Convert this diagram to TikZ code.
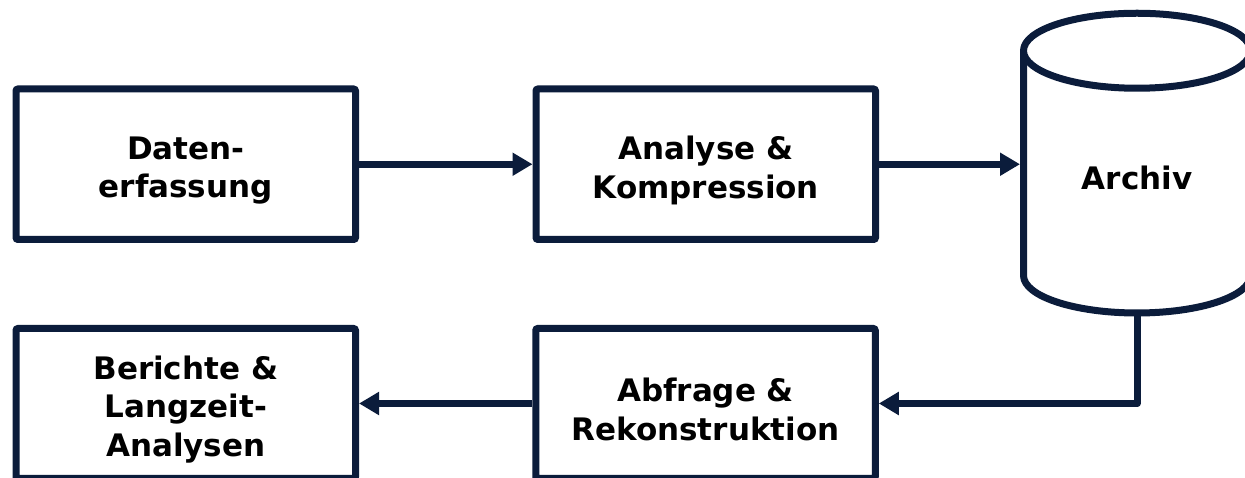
\documentclass[tikz,border=0pt]{standalone}
\usepackage{fontspec}
\setmainfont{DejaVu Sans}
\usetikzlibrary{arrows.meta}
\definecolor{navy}{HTML}{0B1C3B}
% invisible strut that lowers a box text a little
\newcommand\tophang{\rule{0pt}{35.5pt}}
\tikzset{
  box/.style={draw=navy, line width=7pt, rounded corners=2pt, fill=white,
    minimum width=339.5pt, align=center, inner sep=0pt,
    font=\fontsize{31}{38.5}\selectfont\bfseries},
  conn/.style={draw=navy, line width=7pt, line join=round,
    -{Triangle[length=20pt,width=22pt]}},
  lbl/.style={align=center, inner sep=0pt, font=\fontsize{31}{38.5}\selectfont\bfseries}
}
\begin{document}
\begin{tikzpicture}[x=1pt,y=1pt]
\useasboundingbox (0,0) rectangle (1245,478);

% process boxes
\node[box, minimum height=150.5pt] (erfassung) at (185.75,313.75) {\tophang Daten-\\erfassung};
\node[box, minimum height=150.5pt] (analyse) at (705.75,313.75) {\tophang Analyse \&\\Kompression};
\node[box, minimum height=150pt] (berichte) at (185.75,74.5) {\tophang Berichte \&\\Langzeit-\\Analysen};
\node[box, minimum height=150pt] (abfrage) at (705.5,74.5) {\tophang Abfrage \&\\Rekonstruktion};

% archive drum
\begin{scope}[draw=navy, line width=7pt, line join=round]
  \draw[fill=white] (1023.5,427.25) -- (1023.5,202.5)
    arc[start angle=180, end angle=360, x radius=113.5, y radius=37.5]
    -- (1250.5,427.25);
  \draw[fill=white] (1137,427.25) ellipse[x radius=113.5, y radius=37.5];
\end{scope}
\node[lbl] (archiv) at (1137,300.5) {Archiv};
\coordinate (archivin) at (1020,313.75);
\coordinate (archivout) at (1137,161.5);

% flow
\draw[conn] (erfassung.east) -- (analyse.west);
\draw[conn] (analyse.east) -- (archivin);
\draw[conn] (archivout) |- (abfrage.east);
\draw[conn] (abfrage.west) -- (berichte.east);
\end{tikzpicture}
\end{document}
